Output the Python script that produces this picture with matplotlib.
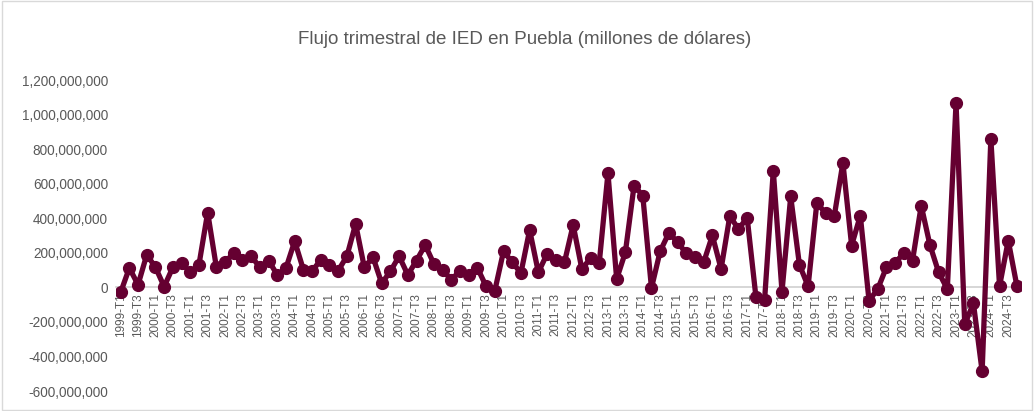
import matplotlib
matplotlib.use("Agg")
import matplotlib.pyplot as plt
from matplotlib.patches import Rectangle
from matplotlib.ticker import FuncFormatter

years = list(range(1999, 2025))
quarters = [f"{y}-T{q}" for y in years for q in range(1, 5)]

# values in millions of dollars
values_m = [
    -29, 112, 15, 189,
    116, 4, 116, 141,
    87, 131, 433, 116,
    145, 199, 160, 180,
    116, 155, 72, 112,
    267, 102, 93, 160,
    131, 97, 180, 367,
    116, 174, 23, 93,
    180, 72, 155, 245,
    135, 102, 43, 97,
    72, 112, 6, -19,
    209, 145, 83, 332,
    87, 193, 160, 145,
    361, 106, 168, 141,
    661, 48, 203, 589,
    531, -4, 209, 315,
    261, 197, 174, 145,
    300, 106, 412, 338,
    402, -54, -73, 676,
    -25, 526, 131, 6,
    487, 431, 410, 721,
    242, 415, -77, -10,
    116, 141, 199, 155,
    473, 245, 87, -10,
    1067, -213, -93, -487,
    860, 6, 271, 6,
]
values = [v * 1e6 for v in values_m]

title = "Flujo trimestral de IED en Puebla (millones de dólares)"
yticks = [-600e6, -400e6, -200e6, 0, 200e6, 400e6, 600e6, 800e6, 1000e6, 1200e6]

color = "#650031"
gray_txt = "#595959"

fig = plt.figure(figsize=(10.34, 4.11), dpi=100)
ax = fig.add_axes([116.3 / 1034, 20 / 411, 905 / 1034, 311 / 411])

x = list(range(len(values)))
ax.plot(x, values, color=color, lw=3.8, marker="o", ms=8.5, zorder=3,
        solid_joinstyle="round")

ax.set_xlim(-0.5, len(values) - 0.5)
ax.set_ylim(-600e6, 1200e6)
ax.set_yticks(yticks)
ax.yaxis.set_major_formatter(FuncFormatter(lambda v, p: f"{int(round(v)):,}"))

for s in ["top", "right", "left"]:
    ax.spines[s].set_visible(False)
ax.spines["bottom"].set_position(("data", 0))
ax.spines["bottom"].set_color("#D0D0D0")
ax.spines["bottom"].set_linewidth(1.2)
ax.spines["bottom"].set_zorder(1)

ax.set_xticks(x[::2])
ax.set_xticklabels(quarters[::2])
ax.tick_params(axis="x", length=0, pad=4, labelrotation=90, labelsize=8.5,
               labelcolor=gray_txt)
ax.tick_params(axis="y", length=0, labelsize=9.8, labelcolor=gray_txt, pad=6)
for lab in ax.get_xticklabels() + ax.get_yticklabels():
    lab.set_fontfamily("Liberation Sans")
for lab in ax.get_xticklabels():
    lab.set_va("top")
    lab.set_ha("center")

fig.text(525 / 1034, 1 - 40 / 411, title, ha="center", va="center",
         fontsize=13.5, color=gray_txt, fontfamily="Liberation Sans")

fig.patches.append(Rectangle((0.002, 0.002), 0.996, 0.996, transform=fig.transFigure,
                             fill=False, edgecolor="#D9D9D9", lw=1))

fig.savefig("out.png", dpi=100)
